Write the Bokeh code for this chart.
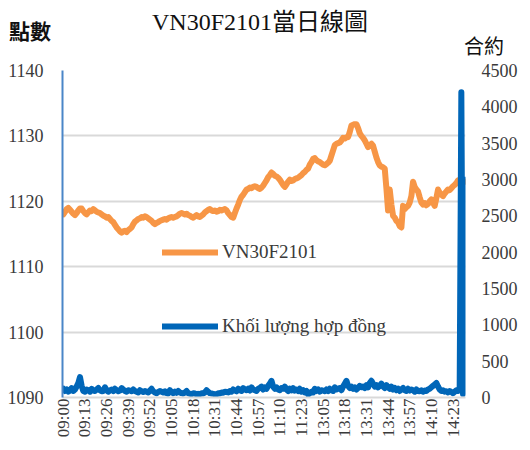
import math
from bokeh.plotting import figure
from bokeh.layouts import column
from bokeh.models import Range1d, LinearAxis, FixedTicker, Legend, LegendItem, Div
from bokeh.embed import file_html
from bokeh.resources import INLINE

# ---- data ----
times = ([f"{h:02d}:{m:02d}" for h in range(9, 12) for m in range(60) if (h, m) <= (11, 30)]
         + [f"{h:02d}:{m:02d}" for h in range(13, 15) for m in range(60) if (h, m) <= (14, 29)]
         + ["14:45"])

price = [
    1118.0, 1118.4, 1118.8, 1119.0, 1118.7, 1118.4, 1118.1, 1117.9, 1118.2, 1118.6,
    1118.9, 1118.9, 1118.5, 1118.2, 1118.0, 1118.3, 1118.6, 1118.5, 1118.8, 1118.6,
    1118.4, 1118.3, 1118.2, 1118.0, 1117.8, 1117.7, 1117.5, 1117.6, 1117.3, 1117.0,
    1116.8, 1116.4, 1116.0, 1115.7, 1115.4, 1115.2, 1115.4, 1115.5, 1115.3, 1115.6,
    1115.8, 1116.0, 1116.5, 1116.9, 1117.1, 1117.3, 1117.4, 1117.6, 1117.5, 1117.7,
    1117.6, 1117.4, 1117.2, 1117.0, 1116.7, 1116.5, 1116.7, 1116.8, 1117.0, 1117.1,
    1117.2, 1117.3, 1117.2, 1117.4, 1117.5, 1117.6, 1117.5, 1117.6, 1117.7, 1117.9,
    1118.1, 1118.2, 1118.1, 1118.0, 1118.1, 1117.9, 1117.8, 1117.6, 1117.5, 1117.7,
    1117.9, 1117.7, 1117.6, 1117.8, 1118.0, 1118.3, 1118.5, 1118.7, 1118.8, 1118.6,
    1118.5, 1118.6, 1118.4, 1118.5, 1118.7, 1118.6, 1118.7, 1118.8, 1118.6, 1118.2,
    1117.9, 1117.6, 1117.5, 1118.2, 1118.9, 1119.5, 1120.2, 1120.7, 1121.0, 1121.4,
    1121.8, 1121.9, 1122.1, 1122.0, 1122.2, 1122.3, 1122.2, 1122.0, 1121.9, 1122.1,
    1122.4, 1122.8, 1123.2, 1123.7, 1124.0, 1124.4, 1124.2, 1123.9, 1123.8, 1123.6,
    1123.3, 1122.9, 1122.5, 1122.2, 1122.6, 1123.0, 1123.3, 1123.1, 1123.2, 1123.4,
    1123.5, 1123.6, 1123.8, 1124.0, 1124.3, 1124.5, 1124.8, 1125.0, 1125.6, 1126.0,
    1126.5, 1126.6, 1126.3, 1126.1, 1126.0, 1125.8, 1125.6, 1125.5, 1125.7, 1125.9,
    1126.2, 1127.0, 1127.8, 1128.6, 1128.8, 1128.9, 1129.0, 1129.3, 1129.7, 1129.6,
    1129.8, 1129.8, 1130.6, 1131.6, 1131.7, 1131.8, 1131.8, 1131.2, 1130.4, 1130.0,
    1129.7, 1129.3, 1128.8, 1128.3, 1128.6, 1128.8, 1128.5, 1127.6, 1126.7, 1126.0,
    1125.5, 1125.3, 1125.2, 1125.0, 1122.0, 1118.6, 1121.8, 1119.5, 1117.8, 1117.5,
    1117.0, 1116.8, 1116.2, 1116.0, 1119.3, 1118.8, 1119.1, 1119.3, 1119.8, 1120.8,
    1123.0, 1122.2, 1121.8, 1121.5, 1120.6, 1119.8, 1119.5, 1119.7, 1119.4, 1119.6,
    1120.0, 1120.3, 1119.8, 1119.3, 1120.5, 1121.8, 1121.3, 1121.0, 1120.8, 1121.2,
    1121.5, 1121.8, 1121.7, 1122.0, 1122.3, 1122.5, 1122.8, 1123.2, 1123.0, 1123.1,
    1123.2, 1123.0,
]

volume = [
    120, 90, 110, 80, 100, 130, 90, 110, 150, 200,
    280, 160, 90, 80, 110, 100, 80, 120, 95, 90,
    110, 130, 100, 85, 90, 140, 100, 80, 95, 110,
    90, 120, 100, 85, 95, 130, 110, 90, 80, 100,
    95, 85, 110, 90, 80, 70, 100, 85, 75, 90,
    80, 70, 95, 120, 85, 70, 60, 75, 90, 80,
    70, 85, 60, 55, 100, 75, 60, 80, 65, 90,
    70, 60, 55, 70, 90, 60, 50, 45, 60, 55,
    40, 50, 45, 60, 55, 70, 100, 80, 60, 55,
    50, 45, 40, 60, 55, 70, 65, 80, 75, 70,
    90, 80, 110, 95, 85, 120, 100, 90, 130, 110,
    100, 120, 95, 140, 110, 100, 90, 120, 130, 150,
    110, 140, 120, 160, 190, 230, 150, 120, 140, 110,
    100, 130, 120, 150, 110, 90, 120, 100, 130, 95,
    110, 90, 120, 80, 100, 70, 90, 40, 60, 80,
    70, 120, 90, 110, 80, 100, 95, 85, 110, 90,
    120, 100, 90, 140, 110, 120, 130, 100, 150, 190,
    230, 160, 130, 150, 120, 140, 110, 130, 160, 140,
    150, 130, 170, 140, 200, 230, 190, 150, 170, 140,
    160, 190, 150, 130, 170, 140, 120, 150, 110, 130,
    100, 120, 90, 110, 130, 100, 90, 120, 95, 110,
    100, 80, 110, 90, 85, 100, 80, 95, 90, 110,
    120, 140, 160, 180, 200, 150, 110, 90, 100, 80,
    85, 70, 90, 75, 60, 80, 100, 90, 120, 4200,
    50, 3000,
]

price_ticks = [1090, 1100, 1110, 1120, 1130, 1140]
volume_ticks = [0, 500, 1000, 1500, 2000, 2500, 3000, 3500, 4000, 4500]
label_step = 13

title_text = "VN30F2101當日線圖"
left_title = "點數"
right_title = "合約"
price_name = "VN30F2101"
volume_name = "Khối lượng hợp đồng"

assert len(times) == len(price) == len(volume)
idx = list(range(len(times)))

# ---- style ----
SERIF = "Liberation Serif"
ORANGE = "#F79646"
BLUE = "#0066B8"
GRID = "#D9D9D9"
TXT = "#3A3A3A"
W = 520
TOP_H = 58
MAIN_H = 382

# ---- header strip with the titles ----
span = ("position:absolute;left:{x}px;top:{y}px;transform:translate(-50%,-50%);"
        "white-space:nowrap;line-height:1;font-family:{f};font-size:{s}px;font-weight:{w};")
head_html = (
    f'<div style="position:relative;width:{W}px;height:{TOP_H}px;color:#111111;">'
    f'<span style="{span.format(x=260, y=22, f=chr(39)+"Liberation Serif"+chr(39)+", "+chr(39)+"Noto Sans CJK TC"+chr(39), s=24, w="normal")}">{title_text}</span>'
    f'<span style="{span.format(x=30, y=30, f=chr(39)+"Noto Sans CJK TC"+chr(39), s=21, w="bold")}">{left_title}</span>'
    f'<span style="{span.format(x=484, y=46, f=chr(39)+"Noto Sans CJK TC"+chr(39), s=20, w="normal")}">{right_title}</span>'
    '</div>'
)
head = Div(text=head_html, width=W, height=TOP_H, margin=(0, 0, 0, 0))

# ---- main chart ----
p = figure(width=W, height=MAIN_H,
           x_range=Range1d(-0.5, len(times) - 0.5),
           y_range=Range1d(price_ticks[0], price_ticks[-1]),
           output_backend="svg", toolbar_location=None,
           min_border_left=62, min_border_right=53,
           min_border_top=12, min_border_bottom=40,
           outline_line_color=None)
p.extra_y_ranges = {"vol": Range1d(volume_ticks[0], volume_ticks[-1])}

r_price = p.line(x=idx, y=price, line_color=ORANGE, line_width=6,
                 line_join="round", line_cap="round")
r_vol = p.line(x=idx, y=volume, y_range_name="vol", line_color=BLUE, line_width=6,
               line_join="round", line_cap="round")

# x axis
xt = list(range(0, len(times), label_step))
p.xaxis.ticker = FixedTicker(ticks=xt)
p.xaxis.major_label_overrides = {i: times[i] for i in xt}
p.xaxis.major_label_orientation = math.pi / 2
p.xaxis.major_label_text_font = SERIF
p.xaxis.major_label_text_font_size = "17px"
p.xaxis.major_label_text_color = TXT
p.xaxis.major_label_standoff = 1
p.xaxis.major_tick_out = 0
p.xaxis.major_tick_in = 0
p.xaxis.minor_tick_line_color = None
p.xaxis.axis_line_color = GRID
p.xaxis.axis_line_width = 2
p.xgrid.grid_line_color = None

# left axis
p.yaxis.ticker = FixedTicker(ticks=price_ticks)
p.yaxis.major_label_text_font = SERIF
p.yaxis.major_label_text_font_size = "18px"
p.yaxis.major_label_text_color = TXT
p.yaxis.major_label_standoff = 19
p.yaxis.major_tick_out = 0
p.yaxis.major_tick_in = 0
p.yaxis.minor_tick_line_color = None
p.yaxis.axis_line_color = "#4A86C8"
p.yaxis.axis_line_width = 2
p.ygrid.ticker = FixedTicker(ticks=price_ticks)
p.ygrid.grid_line_color = GRID
p.ygrid.grid_line_width = 2

# right axis
ra = LinearAxis(y_range_name="vol", ticker=FixedTicker(ticks=volume_ticks))
ra.major_label_text_font = SERIF
ra.major_label_text_font_size = "18px"
ra.major_label_text_color = TXT
ra.major_label_standoff = 16
ra.major_tick_out = 0
ra.major_tick_in = 0
ra.minor_tick_line_color = None
ra.axis_line_color = None
p.add_layout(ra, "right")

# legends (location = bottom-left of each legend, relative to the frame)
for name, rend, loc in [(price_name, r_price, (100, 134)), (volume_name, r_vol, (100, 60))]:
    lg = Legend(items=[LegendItem(label=name, renderers=[rend])], location=loc,
                glyph_width=56, glyph_height=22, label_standoff=4, padding=0, margin=0,
                spacing=0, label_text_font=SERIF, label_text_font_size="19px",
                label_text_color=TXT, background_fill_alpha=0, border_line_alpha=0)
    p.add_layout(lg)

layout = column(head, p, spacing=0)
open("out.html", "w").write(file_html(layout, INLINE))
